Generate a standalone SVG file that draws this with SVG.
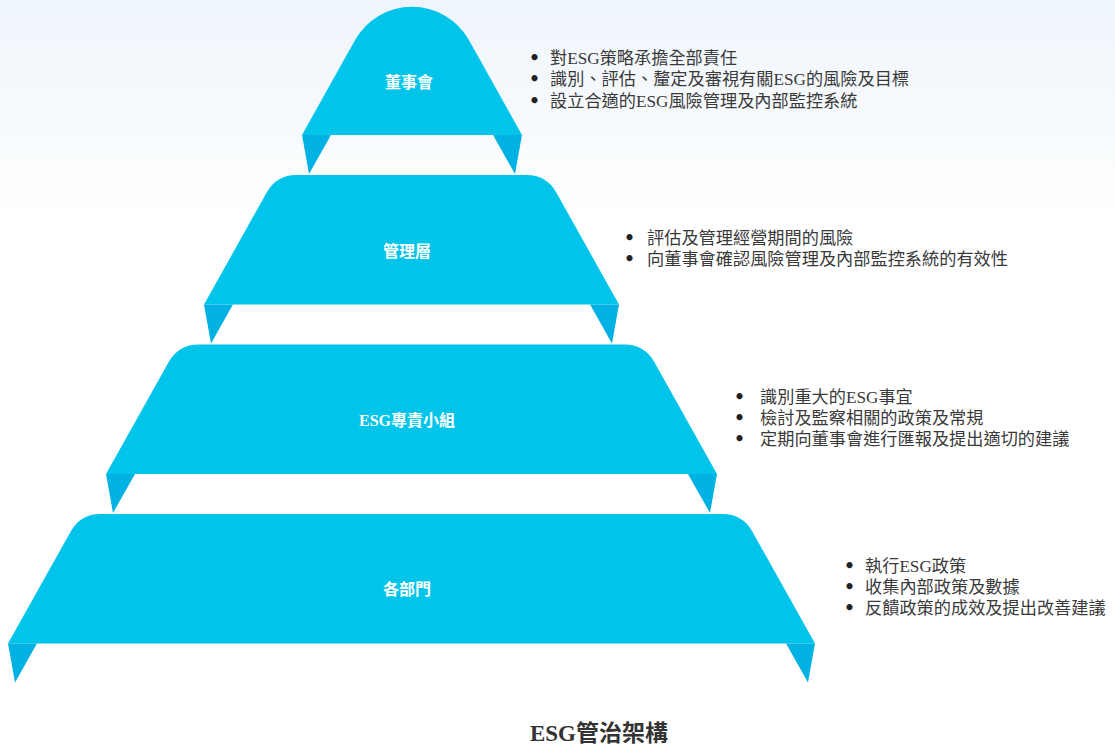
<svg xmlns="http://www.w3.org/2000/svg" width="1115" height="747" viewBox="0 0 1115 747">
<defs>
<linearGradient id="bg" x1="0" y1="0" x2="0" y2="1">
<stop offset="0" stop-color="#eef5fb"/>
<stop offset="0.3" stop-color="#ffffff"/>
<stop offset="1" stop-color="#ffffff"/>
</linearGradient>
<style>
.tier{fill:#00c4e9;}
.fold{fill:#00b2e3;}
.lbl{font-family:"Liberation Serif","Noto Sans CJK TC",serif;font-size:16px;font-weight:bold;fill:#ffffff;text-anchor:middle;}
.bul{font-family:"Liberation Serif","Noto Sans CJK TC",serif;font-size:17.2px;fill:#3a3a3a;}
.dot{font-family:"DejaVu Sans",sans-serif;font-size:17.2px;font-weight:bold;fill:#222;}
.title{font-family:"Liberation Serif","Noto Sans CJK TC",serif;font-size:23px;font-weight:bold;fill:#333;text-anchor:middle;}
</style>
</defs>
<rect x="0" y="0" width="1115" height="747" fill="url(#bg)"/>
<g id="connectors"/>
<g id="node-board">
<path class="tier" d="M302,135 L355.1,40.1 A65.2,65.2 0 0 1 468.9,40.1 L522,135 Z"/>
<polygon class="fold" points="302,135 331,135 309,174"/>
<polygon class="fold" points="522,135 493,135 515,174"/>
<text class="lbl" x="409" y="88">董事會</text>
<text class="bul" y="64"><tspan class="dot" x="529">•</tspan><tspan x="550">對ESG策略承擔全部責任</tspan></text>
<text class="bul" y="85"><tspan class="dot" x="529">•</tspan><tspan x="550">識別、評估、釐定及審視有關ESG的風險及目標</tspan></text>
<text class="bul" y="107"><tspan class="dot" x="529">•</tspan><tspan x="550">設立合適的ESG風險管理及內部監控系統</tspan></text>
</g>
<g id="node-management">
<path class="tier" d="M204,304.5 L266.7,192.5 Q276.5,175 296.5,175 L526.5,175 Q546.5,175 556.3,192.5 L619,304.5 Z"/>
<polygon class="fold" points="204,304.5 233,304.5 211,343.5"/>
<polygon class="fold" points="619,304.5 590,304.5 612,343.5"/>
<text class="lbl" x="407" y="257">管理層</text>
<text class="bul" y="244"><tspan class="dot" x="624">•</tspan><tspan x="647">評估及管理經營期間的風險</tspan></text>
<text class="bul" y="265"><tspan class="dot" x="624">•</tspan><tspan x="647">向董事會確認風險管理及內部監控系統的有效性</tspan></text>
</g>
<g id="node-esg-team">
<path class="tier" d="M106,474 L168.7,362 Q178.5,344.5 198.5,344.5 L624.5,344.5 Q644.5,344.5 654.3,362 L717,474 Z"/>
<polygon class="fold" points="106,474 135,474 113,513"/>
<polygon class="fold" points="717,474 688,474 710,513"/>
<text class="lbl" x="407" y="426">ESG專責小組</text>
<text class="bul" y="403"><tspan class="dot" x="734">•</tspan><tspan x="760">識別重大的ESG事宜</tspan></text>
<text class="bul" y="424"><tspan class="dot" x="734">•</tspan><tspan x="760">檢討及監察相關的政策及常規</tspan></text>
<text class="bul" y="445"><tspan class="dot" x="734">•</tspan><tspan x="760">定期向董事會進行匯報及提出適切的建議</tspan></text>
</g>
<g id="node-departments">
<path class="tier" d="M8,643.5 L70.7,531.5 Q80.5,514 100.5,514 L722.5,514 Q742.5,514 752.3,531.5 L815,643.5 Z"/>
<polygon class="fold" points="8,643.5 37,643.5 15,682.5"/>
<polygon class="fold" points="815,643.5 786,643.5 808,682.5"/>
<text class="lbl" x="407" y="595">各部門</text>
<text class="bul" y="572"><tspan class="dot" x="844">•</tspan><tspan x="865">執行ESG政策</tspan></text>
<text class="bul" y="593"><tspan class="dot" x="844">•</tspan><tspan x="865">收集內部政策及數據</tspan></text>
<text class="bul" y="614"><tspan class="dot" x="844">•</tspan><tspan x="865">反饋政策的成效及提出改善建議</tspan></text>
</g>
<text class="title" x="599" y="741">ESG管治架構</text>
</svg>
